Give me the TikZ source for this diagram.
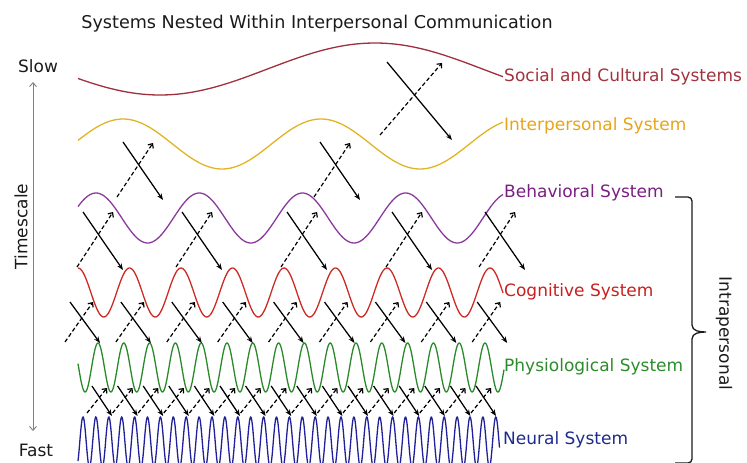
\documentclass[tikz,border=0pt]{standalone}
\usepackage{fontspec}
\setmainfont{DejaVu Sans}
\usetikzlibrary{arrows.meta}

% system colours (wave / label)
\definecolor{socW}{HTML}{9E2F3C}\definecolor{socL}{HTML}{A0343E}
\definecolor{intW}{HTML}{E0B424}\definecolor{intL}{HTML}{E8A418}
\definecolor{behW}{HTML}{8A3A9C}\definecolor{behL}{HTML}{7A1E82}
\definecolor{cogW}{HTML}{CC2A24}\definecolor{cogL}{HTML}{C8201E}
\definecolor{phyW}{HTML}{2A8A2A}\definecolor{phyL}{HTML}{2C8C2C}
\definecolor{neuW}{HTML}{20209A}\definecolor{neuL}{HTML}{1E2A8E}
\definecolor{axisgray}{HTML}{808080}
\definecolor{inkc}{HTML}{1A1A1A}

\begin{document}
\begin{tikzpicture}[x=1pt,y=-1pt,
  every node/.style={font=\fontsize{17}{20}\selectfont, text=inkc},
  wave/.style={line width=1.3pt},
  syslabel/.style={anchor=west, inner sep=1pt},
  downarr/.style={line width=1.25pt, -{Stealth[length=6.5pt,width=5pt]}},
  uparr/.style={line width=1.2pt, dash pattern=on 4pt off 2.5pt,
                -{Straight Barb[length=3.5pt,width=6.5pt]}},
  axisline/.style={line width=0.9pt, draw=axisgray,
                   {Straight Barb[length=4pt,width=7pt]}-{Straight Barb[length=4pt,width=7pt]}},
]
\useasboundingbox (0,0) rectangle (747,463);

% title
\node[anchor=base, font=\fontsize{17.6}{20}\selectfont] (title) at (317,28)
  {Systems Nested Within Interpersonal Communication};

% timescale axis
\node (slow) at (38,66.5) {Slow};
\node (fast) at (36,450) {Fast};
\node[rotate=90] (tscale) at (21,226.5) {Timescale};
\coordinate (axTop) at (33,82);
\coordinate (axBot) at (33,431);
\draw[axisline] (axTop) -- (axBot);

% waves: y = c - A cos(360 (x - xmax) / P)
\draw[wave, socW] plot[domain=78:503, samples=120] (\x, {69 - 26*cos(((\x-375)/430)*360)});
\draw[wave, intW] plot[domain=78:503, samples=160] (\x, {144 - 25*cos(((\x-123)/198)*360)});
\draw[wave, behW] plot[domain=78:503, samples=240] (\x, {218 - 25*cos(((\x-96)/103.2)*360)});
\draw[wave, cogW] plot[domain=78:503, samples=360] (\x, {292.5 - 24.5*cos(((\x-78)/51.5)*360)});
\draw[wave, phyW] plot[domain=78:504, samples=600] (\x, {367.5 - 24.5*cos(((\x-98)/25.8)*360)});
\draw[wave, neuW] plot[domain=78:499.5, samples=900] (\x, {442 - 25*cos(((\x-83)/12.9)*360)});

% system labels
\node[syslabel, text=socL] (socLbl) at (503,77)  {Social and Cultural Systems};
\node[syslabel, text=intL] (intLbl) at (503,126) {Interpersonal System};
\node[syslabel, text=behL] (behLbl) at (503,193) {Behavioral System};
\node[syslabel, text=cogL] (cogLbl) at (503,292) {Cognitive System};
\node[syslabel, text=phyL] (phyLbl) at (503,367) {Physiological System};
\node[syslabel, text=neuL] (neuLbl) at (502,440) {Neural System};

% social <-> interpersonal
\coordinate (siS) at (387,62);  \coordinate (siE) at (452,140);
\coordinate (isS) at (380,135); \coordinate (isE) at (442,63);
\draw[downarr] (siS) -- (siE);
\draw[uparr] (isS) -- (isE);

% interpersonal <-> behavioral
\foreach \k/\o in {1/0, 2/197} {
  \coordinate (ibS\k) at (123+\o,142); \coordinate (ibE\k) at (163+\o,200);
  \coordinate (biS\k) at (117+\o,197); \coordinate (biE\k) at (153+\o,143);
  \draw[downarr] (ibS\k) -- (ibE\k);
  \draw[uparr] (biS\k) -- (biE\k);
}

% behavioral <-> cognitive
\foreach \k/\o in {1/83, 2/182, 3/287, 4/392, 5/485} {
  \coordinate (bcS\k) at (\o,212);    \coordinate (bcE\k) at (\o+40,270);
  \coordinate (cbS\k) at (\o-6,267);  \coordinate (cbE\k) at (\o+30,212);
  \draw[downarr] (bcS\k) -- (bcE\k);
  \draw[uparr] (cbS\k) -- (cbE\k);
}

% cognitive <-> physiological
\foreach \k in {0,...,8} {
  \pgfmathsetmacro\o{50.9*\k}
  \coordinate (cpS\k) at (70+\o,302); \coordinate (cpE\k) at (100+\o,343);
  \coordinate (pcS\k) at (65+\o,342); \coordinate (pcE\k) at (93+\o,302);
  \draw[downarr] (cpS\k) -- (cpE\k);
  \draw[uparr] (pcS\k) -- (pcE\k);
}

% physiological <-> neural
\foreach \k in {0,...,15} {
  \pgfmathsetmacro\o{25.6*\k}
  \coordinate (pnS\k) at (92+\o,386); \coordinate (pnE\k) at (112+\o,416);
  \coordinate (npS\k) at (87+\o,413); \coordinate (npE\k) at (107+\o,388);
  \draw[downarr] (pnS\k) -- (pnE\k);
  \draw[uparr] (npS\k) -- (npE\k);
}

% intrapersonal brace
\draw[line width=1.3pt, inkc]
  (675,197) -- (688,197) to[out=0,in=90] (692,201) -- (692,325)
  to[out=270,in=180] (706,332) to[out=180,in=90] (692,339)
  -- (692,459) to[out=270,in=0] (688,463) -- (675,463);
\node[rotate=-90] (intra) at (724,333.5) {Intrapersonal};
\end{tikzpicture}
\end{document}
